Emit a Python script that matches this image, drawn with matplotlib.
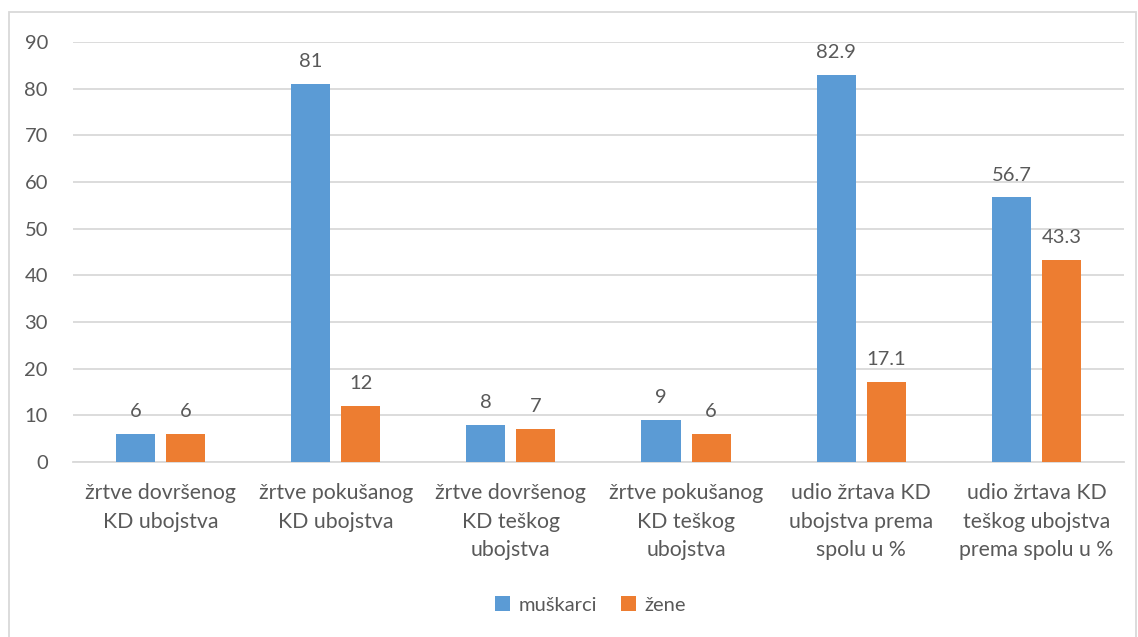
import numpy as np
import matplotlib.pyplot as plt
from matplotlib.patches import Rectangle

plt.rcParams['font.family'] = ['Lato', 'DejaVu Sans']

categories = [
    "žrtve dovršenog\nKD ubojstva",
    "žrtve pokušanog\nKD ubojstva",
    "žrtve dovršenog\nKD teškog\nubojstva",
    "žrtve pokušanog\nKD teškog\nubojstva",
    "udio žrtava KD\nubojstva prema\nspolu u %",
    "udio žrtava KD\nteškog ubojstva\nprema spolu u %",
]
muskarci = [6, 81, 8, 9, 82.9, 56.7]
zene = [6, 12, 7, 6, 17.1, 43.3]
yticks = [0, 10, 20, 30, 40, 50, 60, 70, 80, 90]

BLUE = "#5B9BD5"
ORANGE = "#ED7D31"
TEXT = "#595959"
GRID = "#D9D9D9"

fig = plt.figure(figsize=(11.38, 6.37), dpi=100)
ax = fig.add_axes([0.0641, 0.2747, 0.9236, 0.6593])

# chart border
fig.patches.append(Rectangle((9 / 1138, -0.01), 1127 / 1138, 1 - 12 / 637 + 0.01,
                             transform=fig.transFigure, fill=False,
                             edgecolor=GRID, linewidth=1.3))

x = np.arange(len(categories))
w = 0.223
gap = 0.063
off = (w + gap) / 2
b1 = ax.bar(x - off, muskarci, w, color=BLUE, label="muškarci", zorder=3)
b2 = ax.bar(x + off, zene, w, color=ORANGE, label="žene", zorder=3)

for bars, vals in ((b1, muskarci), (b2, zene)):
    for b, v in zip(bars, vals):
        ax.annotate(f"{v:g}", (b.get_x() + b.get_width() / 2, v),
                    xytext=(0, 10), textcoords="offset points",
                    ha="center", va="bottom", fontsize=14.5, color=TEXT)

ax.set_xlim(-0.5, len(categories) - 0.5)
ax.set_ylim(0, 90)
ax.set_yticks(yticks)
ax.yaxis.grid(True, color=GRID, linewidth=1.3, zorder=0)
ax.set_axisbelow(True)
for s in ("top", "right", "left"):
    ax.spines[s].set_visible(False)
ax.spines["bottom"].set_color(GRID)
ax.spines["bottom"].set_linewidth(1.3)
ax.tick_params(axis="y", length=0, labelsize=14.5, labelcolor=TEXT, pad=18)
ax.tick_params(axis="x", length=0, labelsize=15.3, labelcolor=TEXT, pad=15)
ax.set_xticks(x)
ax.set_xticklabels(categories, linespacing=1.55)

leg = fig.legend(handles=[b1, b2], loc="center", bbox_to_anchor=(0.519, 0.05),
                 ncol=2, frameon=False, fontsize=14.5, handlelength=0.75,
                 handleheight=0.75, handletextpad=0.4, columnspacing=1.2)
for t in leg.get_texts():
    t.set_color(TEXT)

fig.savefig("out.png", dpi=100)
